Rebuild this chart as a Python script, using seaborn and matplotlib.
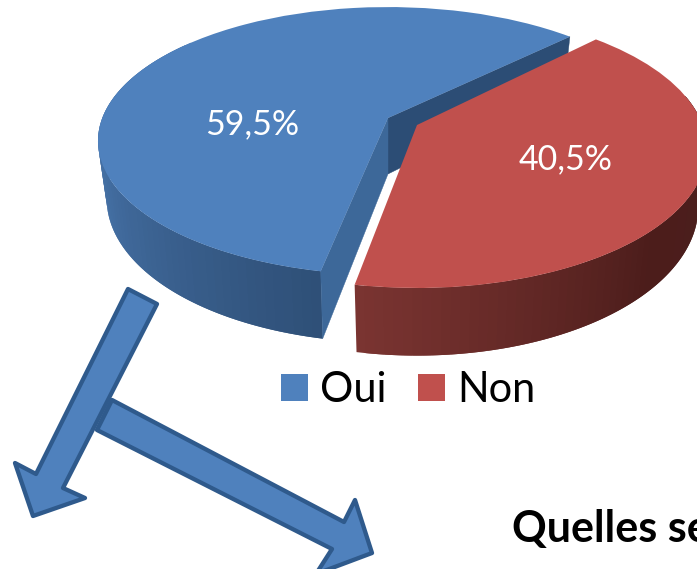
import numpy as np
import matplotlib
matplotlib.use("Agg")
import matplotlib.pyplot as plt
from matplotlib.patches import Polygon
from matplotlib.transforms import Transform
import seaborn as sns

# ---- data ----
categories = ["Oui", "Non"]
values = [59.5, 40.5]
caption = "Quelles se"

# ---- style ----
TOP_COLORS = ["#4F81BD", "#C0504D"]
BACK_FACE = "#2C4D75"
CUT_FACE = "#3D6899"
ARROW_EDGE = "#2F5A8C"
BLUE_SIDE = ["#4B79B2", "#446FA3", "#2F5078"]
RED_SIDE = ["#7A3431", "#4C1D1B", "#4A1F1E"]
FONT = "Lato"

sns.set_theme(style="white")
plt.rcParams["font.family"] = [FONT, "DejaVu Sans"]

W, H = 697, 569
fig = plt.figure(figsize=(W / 100, H / 100), dpi=100)
ax = fig.add_axes([0, 0, 1, 1])


class Perspective(Transform):
    """Tilts the unit pie into pixel space with a simple perspective."""
    input_dims = output_dims = 2
    is_separable = False
    has_inverse = False

    def __init__(self, apex, a, b, c, rot=0.0):
        super().__init__()
        self.apex, self.a, self.b, self.c = apex, a, b, c
        self.cos, self.sin = np.cos(np.radians(rot)), np.sin(np.radians(rot))

    def transform_non_affine(self, xy):
        xy = np.asarray(xy, float)
        u = self.cos * xy[:, 0] - self.sin * xy[:, 1]
        v = self.sin * xy[:, 0] + self.cos * xy[:, 1]
        w = 1 + self.c * v
        return np.column_stack([self.apex[0] + self.a * u / w,
                                self.apex[1] - self.b * v / w])


START = 44.5
DEPTH = 56
BASE_SHRINK = 0.97
blue_proj = Perspective((388, 118), 285.7, 130, 0.1717)
red_proj = Perspective((417, 125), 285.7, 135, 0.1717, rot=0.85)

wedges, _ = ax.pie(values, startangle=START, colors=sns.color_palette(TOP_COLORS),
                   radius=1, wedgeprops={"linewidth": 0})
ax.set_aspect("auto")
ax.set_xlim(0, W)
ax.set_ylim(H, 0)
ax.axis("off")


def rim(proj, theta_deg):
    t = np.radians(theta_deg)
    top = proj.transform_non_affine(np.column_stack([np.cos(t), np.sin(t)]))
    v = proj.sin * np.cos(t) + proj.cos * np.sin(t)
    bottom = np.column_stack([proj.apex[0] + (top[:, 0] - proj.apex[0]) * BASE_SHRINK,
                              top[:, 1] + DEPTH / (1 + proj.c * v)])
    return top, bottom


def side(proj, t0, t1, colors, z, n=70):
    # each strip runs under the next one, so no seams show between them
    edges = np.linspace(t0, t1, n + 1)
    shades = sns.blend_palette(colors, n)
    for i in range(n):
        tt = np.linspace(edges[i], edges[min(i + 2, n)], 6)
        top, bottom = rim(proj, tt)
        ax.add_patch(Polygon(np.vstack([top, bottom[::-1]]), closed=True,
                             facecolor=shades[i], edgecolor="none", zorder=z + i * 1e-3))


def cut(proj, theta_deg, color, z):
    top, bottom = rim(proj, np.array([theta_deg]))
    apex = np.array(proj.apex, float)
    ax.add_patch(Polygon([apex, top[0], bottom[0], apex + [0, DEPTH]], closed=True,
                         facecolor=color, edgecolor=color, linewidth=0.3, zorder=z))


split = START + 360 * values[0] / sum(values)

cut(blue_proj, START, BACK_FACE, 1)
side(blue_proj, 140, split, BLUE_SIDE, 2)
cut(blue_proj, split, CUT_FACE, 3)
wedges[0].set_transform(blue_proj + ax.transData)
wedges[0].set_zorder(4)

side(red_proj, split, 372, RED_SIDE, 5)
wedges[1].set_transform(red_proj + ax.transData)
wedges[1].set_zorder(6)

# ---- value labels ----
for v, pos in zip(values, [(252, 122), (566, 157)]):
    ax.text(pos[0], pos[1] + 2, f"{v:.1f}%".replace(".", ","), color="white", fontsize=24.5,
            ha="center", va="center", zorder=8)

# ---- legend ----
LEG_PX = 41.5
leg = ax.legend(wedges, categories, ncol=2, frameon=False, loc="lower left",
                bbox_to_anchor=(281, 409), bbox_transform=ax.transData,
                prop={"family": FONT, "size": LEG_PX * 0.72}, borderpad=0, borderaxespad=0,
                handlelength=0.65, handleheight=0.65, handletextpad=0.3,
                columnspacing=0.74, labelcolor="black")

# ---- arrows ----
arrow_right = [(112, 400), (344, 522), (355, 500), (372, 553), (316, 574), (332, 549), (97, 430)]
arrow_left = [(128, 289), (157, 304), (63, 488), (85, 498), (33, 516), (15, 463), (36, 474)]
for pts, z in [(arrow_right, 9), (arrow_left, 10)]:
    ax.add_patch(Polygon(pts, closed=True, facecolor=TOP_COLORS[0], edgecolor=ARROW_EDGE,
                         linewidth=3.1, joinstyle="round", zorder=z))

# ---- clipped caption ----
ax.text(512, 542, caption, color="black", fontsize=31, fontweight="bold",
        ha="left", va="baseline", clip_on=True, zorder=11)

fig.savefig("out.png", dpi=100)
